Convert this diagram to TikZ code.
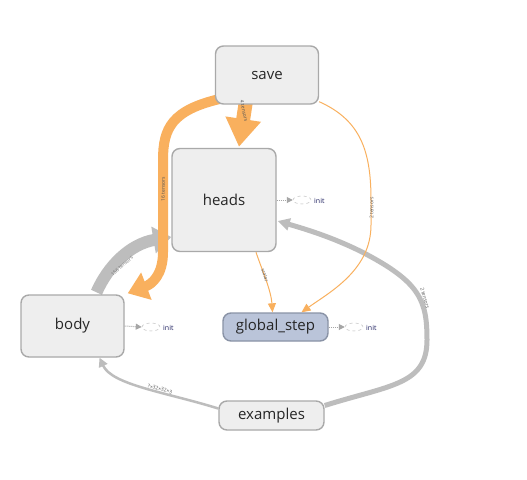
\documentclass[tikz,border=0pt]{standalone}
\usepackage{fontspec}
\setmainfont{Open Sans}
\usetikzlibrary{arrows.meta,shapes.geometric,calc}
\definecolor{orng}{HTML}{F9B05E}
\definecolor{edgegrey}{HTML}{BDBDBD}
\definecolor{boxfill}{HTML}{EEEEEE}
\definecolor{boxline}{HTML}{A9A9A9}
\definecolor{gsfill}{HTML}{BAC4D9}
\definecolor{gsline}{HTML}{8A93A6}
\definecolor{inittext}{HTML}{1E2060}
\definecolor{lbl}{HTML}{555555}
\pgfdeclarelayer{back}
\pgfdeclarelayer{bg}
\pgfsetlayers{back,bg,main}
\tikzset{
  opbox/.style={draw=boxline, fill=boxfill, line width=1.4pt, rounded corners=8pt,
    font=\fontsize{15}{18}\selectfont, text=black!85, inner sep=0pt},
  gsbox/.style={opbox, draw=gsline, fill=gsfill},
  initell/.style={ellipse, draw=black!25, dashed, line width=0.5pt, minimum width=18pt, minimum height=8pt, inner sep=0pt},
  inittxt/.style={font=\fontsize{7}{8}\selectfont, text=inittext, anchor=west, inner sep=0pt},
  initarrow/.style={draw=black!35, densely dotted, line width=1pt, -{Triangle[length=6pt,width=6pt]}},
  elabel/.style={font=\fontsize{5}{6}\selectfont, text=lbl, inner sep=0pt},
  orngedge/.style={draw=orng},
  greyedge/.style={draw=edgegrey},
}
\begin{document}
\begin{tikzpicture}[x=1pt,y=-1pt]
\useasboundingbox (0,0) rectangle (527,479);
\begin{pgfonlayer}{back}
\fill[white] (0,0) rectangle (527,479);
\end{pgfonlayer}

% nodes
\node[opbox, minimum width=103pt, minimum height=58pt] (save) at (267,75) {save};
\node[opbox, minimum width=104pt, minimum height=103pt] (heads) at (224,200) {heads};
\node[opbox, minimum width=103pt, minimum height=62pt] (body) at (72.5,326) {body};
\node[gsbox, minimum width=105pt, minimum height=28pt] (gs) at (275.5,327) {global\_step};
\node[opbox, minimum width=105pt, minimum height=29pt] (examples) at (271.5,415.5) {examples};

% init nodes
\node[initell] (hinit) at (302,200) {};
\node[inittxt] (hinitt) at (314,200.5) {init};
\node[initell] (binit) at (151,327) {};
\node[inittxt] (binitt) at (163,327.5) {init};
\node[initell] (ginit) at (354,327) {};
\node[inittxt] (ginitt) at (366,327.5) {init};

\draw[initarrow] (heads.east) -- (hinit.west);
\draw[initarrow] (body.east) -- (binit.west);
\draw[initarrow] (gs.east) -- (ginit.west);

\begin{pgfonlayer}{bg}
% body -> heads
\draw[greyedge, line width=12pt, -{Triangle[length=18pt,width=26pt]}]
  ([xshift=24pt,yshift=2pt]body.north) .. controls (108,266) and (130,244) .. ([yshift=-37pt]heads.west);
% examples -> heads
\draw[greyedge, line width=5pt, -{Triangle[length=12pt,width=12pt]}]
  ([yshift=10pt]examples.east) .. controls (390,385) and (427,385) .. (427,340)
  .. controls (427,300) and (420,282) .. (362,252) .. controls (332,237) and (305,229) .. ([xshift=1pt,yshift=-21pt]heads.east);
% examples -> body
\draw[greyedge, line width=2.5pt, -{Triangle[length=9pt,width=9pt]}]
  ([yshift=7pt]examples.west) .. controls (165,392) and (112,385) .. ([xshift=27pt]body.south);
% save -> heads
\draw[orngedge, line width=14pt, -{Triangle[length=28pt,width=34pt]}]
  ([xshift=-21pt,yshift=4pt]save.south) -- ([xshift=15pt,yshift=1pt]heads.north);
% save -> body
\draw[orngedge, line width=10pt, -{Triangle[length=20pt,width=28pt]}]
  ([xshift=6pt,yshift=6pt]save.south west) .. controls (172,110) and (163,128) .. (163,160)
  -- (163,252) .. controls (163,275) and (152,284) .. ([xshift=3pt,yshift=1pt]body.north east);
% save -> global_step
\draw[orngedge, line width=1pt, -{Triangle[length=9pt,width=8pt]}]
  ([yshift=3pt]save.south east) .. controls (360,120) and (371,150) .. (371,200)
  -- (371,225) .. controls (371,270) and (330,292) .. ([xshift=26pt]gs.north);
% heads -> global_step
\draw[orngedge, line width=1pt, -{Triangle[length=9pt,width=8pt]}]
  ([xshift=32pt]heads.south) .. controls (262,270) and (271,290) .. ([xshift=-3pt]gs.north);
\end{pgfonlayer}

% edge labels
\node[elabel, rotate=-78] (l1) at (244,111) {4 tensors};
\node[elabel, rotate=90] (l2) at (163,189) {16 tensors};
\node[elabel, rotate=90] (l3) at (371.5,208) {2 tensors};
\node[elabel, rotate=-72] (l4) at (265,275) {scalar};
\node[elabel, rotate=42, text=black!55] (l5) at (122,266) {156 tensors};
\node[elabel, rotate=-74] (l6) at (425,298) {2 tensors};
\node[elabel, rotate=-15] (l7) at (160,389) {?×32×32×3};
\end{tikzpicture}
\end{document}
